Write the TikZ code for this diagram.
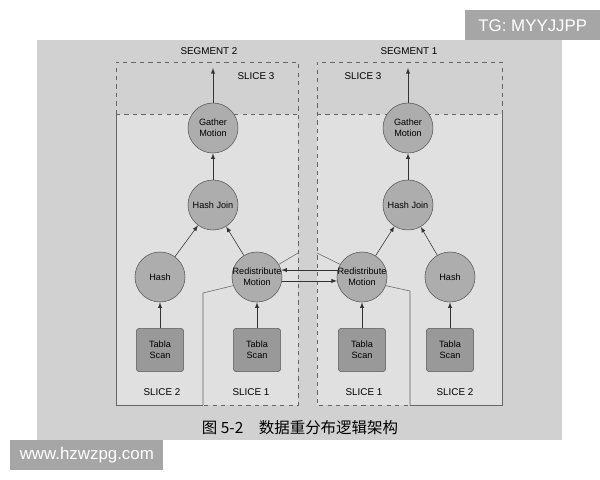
\documentclass[tikz,border=0pt]{standalone}
\usepackage{fontspec}
\setmainfont{Liberation Sans}
\newfontfamily\cjk{Noto Sans CJK SC}
\tikzset{
  >=latex,
  op/.style={circle,draw=black!65,fill=black!32,minimum size=1.25cm,inner sep=-3pt,
    align=center,font=\fontsize{6.5}{7.5}\selectfont},
  scanbox/.style={rectangle,rounded corners=2pt,draw=black!65,fill=black!40,
    minimum width=1.18cm,minimum height=1.08cm,align=center,font=\fontsize{6.5}{7.5}\selectfont},
  lbl/.style={font=\fontsize{7}{8}\selectfont},
  segline/.style={black!60,thin},
  wmark/.style={fill=black!35,text=white,inner sep=0pt,font=\fontsize{12}{14}\selectfont},
}

\begin{document}
\begin{tikzpicture}[x=0.025cm,y=-0.025cm]
    \useasboundingbox (0,0) rectangle (600,480);
    % page background
    \fill[black!18] (37,40) rectangle (562,440);
    \fill[black!12] (116,114) rectangle (298,405);
    \fill[black!12] (317,114) rectangle (502,405);

    % segment frames
    \begin{scope}[segline]
      \draw[dashed] (116,114)--(116,62)--(298,62)--(298,405)--(203,405);
      \draw[dashed] (116,114)--(298,114);
      \draw (116,114)--(116,405)--(203,405);
      \draw[dashed] (502,114)--(502,62)--(317,62)--(317,405)--(410,405);
      \draw[dashed] (317,114)--(502,114);
      \draw (502,114)--(502,405)--(410,405);
    \end{scope}

    \node[lbl] (seg2) at (209,51) {SEGMENT 2};
    \node[lbl] (seg1) at (409,51) {SEGMENT 1};
    \node[lbl] (sl3L) at (256,76) {SLICE 3};
    \node[lbl] (sl3R) at (363,76) {SLICE 3};
    \node[lbl] (sl2L) at (162,392) {SLICE 2};
    \node[lbl] (sl1L) at (251,392) {SLICE 1};
    \node[lbl] (sl1R) at (364,392) {SLICE 1};
    \node[lbl] (sl2R) at (455,392) {SLICE 2};

    % segment 2
    \node[op] (gatherL) at (213,128) {Gather\\Motion};
    \node[op] (joinL) at (213,205) {Hash Join};
    \node[op] (hashL) at (160,277) {Hash};
    \node[op] (redisL) at (257,277) {Redistribute\\Motion};
    \node[scanbox] (scanL2) at (160,350) {Tabla\\Scan};
    \node[scanbox] (scanL1) at (257,350) {Tabla\\Scan};
    \coordinate (outL) at (213,68);

    % segment 1
    \node[op] (gatherR) at (408,128) {Gather\\Motion};
    \node[op] (joinR) at (408,205) {Hash Join};
    \node[op] (redisR) at (362,277) {Redistribute\\Motion};
    \node[op] (hashR) at (450,277) {Hash};
    \node[scanbox] (scanR1) at (362,350) {Tabla\\Scan};
    \node[scanbox] (scanR2) at (450,350) {Tabla\\Scan};
    \coordinate (outR) at (408,68);

    % slice 1 borders
    \begin{scope}[segline]
      \draw (298,253)--(redisL.30);
      \draw (redisL.200)--(203,293)--(203,405);
      \draw (317,253)--(redisR.150);
      \draw (redisR.-20)--(410,291)--(410,405);
    \end{scope}

    \begin{scope}[->,black!80]
      \draw (scanL2)--(hashL);
      \draw (scanL1)--(redisL);
      \draw (hashL)--(joinL);
      \draw (redisL)--(joinL);
      \draw (joinL)--(gatherL);
      \draw (gatherL)--(outL);
      \draw (scanR1)--(redisR);
      \draw (scanR2)--(hashR);
      \draw (redisR)--(joinR);
      \draw (hashR)--(joinR);
      \draw (joinR)--(gatherR);
      \draw (gatherR)--(outR);
      \draw (redisR.164)--(redisL.16);
      \draw (redisL.-9)--(redisR.189);
    \end{scope}

    \node[font=\cjk\fontsize{11}{13}\selectfont] (cap) at (300,428) {图 5-2\quad 数据重分布逻辑架构};

    % watermarks
    \node[wmark,minimum width=3.375cm,minimum height=0.75cm,anchor=north west] (tg) at (465,10) {TG: MYYJJPP};
    \node[wmark,minimum width=3.825cm,minimum height=0.75cm,anchor=north west] (site) at (10,440) {www.hzwzpg.com};
  \end{tikzpicture}
\end{document}
